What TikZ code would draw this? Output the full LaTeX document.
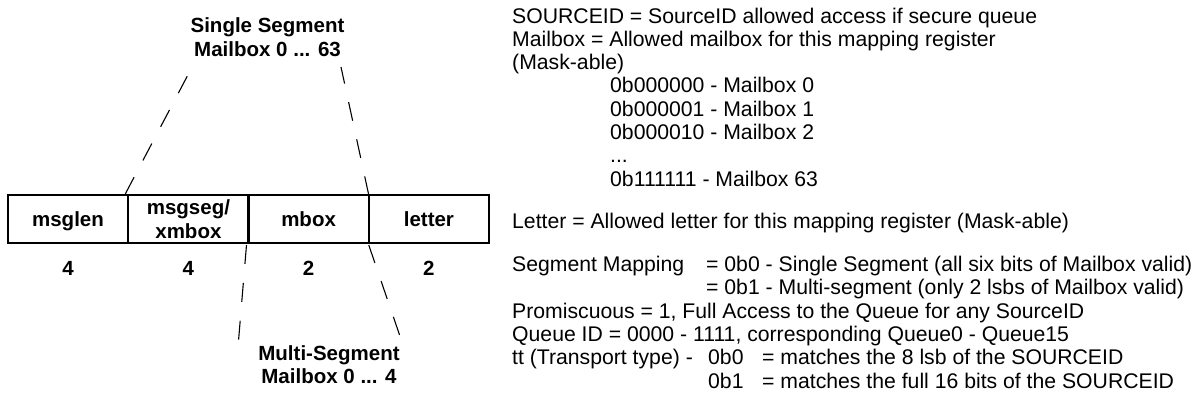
\documentclass[tikz,border=0pt]{standalone}
\usepackage{fontspec}
\setmainfont{Liberation Sans}
\begin{document}
\begin{tikzpicture}[x=1pt,y=-1pt,
  cell/.style={draw, line width=2.2pt, minimum width=120.25pt, minimum height=48pt,
    inner sep=0pt, outer sep=0pt, anchor=north west},
  lbl/.style={font=\bfseries\fontsize{20.5}{24}\selectfont, inner sep=0pt, anchor=base},
  note/.style={font=\fontsize{21.2}{23.3}\selectfont, inner sep=0pt, anchor=base west},
  link/.style={line width=1.1pt, dash pattern=on 19pt off 19pt}]
\useasboundingbox (0,0) rectangle (1194,402);

% register fields
\node[cell] (c1) at (8,195) {};
\node[cell] (c2) at (128.25,195) {};
\node[cell] (c3) at (248.5,195) {};
\node[cell] (c4) at (368.75,195) {};

\node[lbl] (f1) at (68,226.7) {msglen};
\node[lbl] (f2a) at (188.4,214) {msgseg/};
\node[lbl] (f2b) at (188.4,238.3) {xmbox};
\node[lbl] (f3) at (308.6,226.7) {mbox};
\node[lbl] (f4) at (428.9,226.7) {letter};

% field widths
\node[lbl] (w1) at (68,275) {4};
\node[lbl] (w2) at (188.4,275) {4};
\node[lbl] (w3) at (308.6,275) {2};
\node[lbl] (w4) at (428.9,275) {2};

% mailbox interpretations
\node[lbl] (ss1) at (267.5,32.3) {Single Segment};
\node[lbl] (ss2) at (267.5,56) {Mailbox 0 ... 63};
\node[lbl] (ms1) at (329,360) {Multi-Segment};
\node[lbl] (ms2) at (329,383.3) {Mailbox 0 ... 4};

\coordinate (ssl) at (190,71);
\coordinate (ssr) at (341,67);
\coordinate (msl) at (238,347);
\coordinate (msr) at (403,345);

\draw[link] ([xshift=-3pt,yshift=1pt]c1.north east) -- (ssl);
\draw[link] (c3.north east) -- (ssr);
\draw[link] ([xshift=-2pt,yshift=-2pt]c2.south east) -- (msl);
\draw[link] ([yshift=-2pt]c3.south east) -- (msr);

% field descriptions
\node[note] (n1) at (512,23) {SOURCEID = SourceID allowed access if secure queue};
\node[note] (n2) at (512,46.3) {Mailbox = Allowed mailbox for this mapping register};
\node[note] (n3) at (512,69.6) {(Mask-able)};
\node[note] (n4) at (610,92.9) {0b000000 - Mailbox 0};
\node[note] (n5) at (610,116.2) {0b000001 - Mailbox 1};
\node[note] (n6) at (610,139.5) {0b000010 - Mailbox 2};
\node[note] (n7) at (610,162.8) {...};
\node[note] (n8) at (610,186.1) {0b111111 - Mailbox 63};
\node[note] (n9) at (512,228) {Letter = Allowed letter for this mapping register (Mask-able)};
\node[note] (n10) at (512,271.5) {Segment Mapping};
\node[note] (n10b) at (706,271.5) {= 0b0 - Single Segment (all six bits of Mailbox valid)};
\node[note] (n11) at (706,294.8) {= 0b1 - Multi-segment (only 2 lsbs of Mailbox valid)};
\node[note] (n12) at (512,318.1) {Promiscuous = 1, Full Access to the Queue for any SourceID};
\node[note] (n13) at (512,341.4) {Queue ID = 0000 - 1111, corresponding Queue0 - Queue15};
\node[note] (n14) at (512,364.7) {tt (Transport type) -};
\node[note] (n14b) at (708,364.7) {0b0};
\node[note] (n14c) at (762,364.7) {= matches the 8 lsb of the SOURCEID};
\node[note] (n15b) at (708,388) {0b1};
\node[note] (n15c) at (762,388) {= matches the full 16 bits of the SOURCEID};
\end{tikzpicture}
\end{document}
